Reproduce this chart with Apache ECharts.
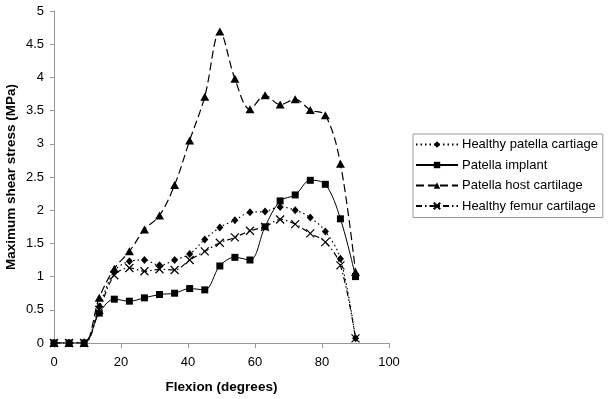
<!DOCTYPE html>
<html>
<head>
<meta charset="utf-8">
<script src="https://cdn.jsdelivr.net/npm/echarts@6/dist/echarts.min.js"></script>
<style>
  html, body { margin: 0; padding: 0; background: #fff; }
  #chart { width: 611px; height: 399px; }
</style>
</head>
<body>
<div id="chart"></div>
<script>
// flexion angles (degrees)
var flexion = [0, 4.5, 9, 13.5, 18, 22.5, 27, 31.5, 36, 40.5, 45, 49.5, 54, 58.5, 63, 67.5, 72, 76.5, 81, 85.5, 90];

// max shear stress (MPa)
var healthyPatella = [0, 0, 0.01, 0.55, 1.08, 1.23, 1.25, 1.17, 1.25, 1.34, 1.56, 1.74, 1.85, 1.97, 1.98, 2.05, 2.0, 1.89, 1.68, 1.27, 0.07];
var patellaImplant = [0, 0, 0, 0.45, 0.66, 0.63, 0.68, 0.73, 0.75, 0.82, 0.8, 1.16, 1.29, 1.25, 1.75, 2.14, 2.23, 2.45, 2.39, 1.87, 1.0];
var hostCartilage = [0, 0, 0, 0.68, 1.12, 1.38, 1.71, 1.92, 2.38, 3.05, 3.71, 4.69, 3.98, 3.52, 3.73, 3.59, 3.67, 3.51, 3.43, 2.7, 1.07];
var healthyFemur = [0, 0, 0, 0.5, 1.02, 1.13, 1.08, 1.11, 1.1, 1.25, 1.38, 1.51, 1.59, 1.69, 1.75, 1.86, 1.79, 1.65, 1.52, 1.17, 0.07];

var seriesNames = ['Healthy patella cartiage', 'Patella implant', 'Patella host cartilage', 'Healthy femur cartilage'];

function pairs(ys) {
    return ys.map(function (v, i) { return [flexion[i], v]; });
}

var crossPath = 'path://M0,0L10,10M10,0L0,10';

var chart = echarts.init(document.getElementById('chart'));
var font = 'Arial, "Liberation Sans", sans-serif';

var option = {
    backgroundColor: '#fff',
    animation: false,
    grid: { left: 54, top: 11, width: 335, height: 332, containLabel: false, outerBoundsMode: 'none' },
    legend: {
        orient: 'vertical',
        left: 413,
        top: 134,
        padding: [4, 5, 5, 2],
        itemGap: 7.5,
        itemWidth: 42,
        itemHeight: 8,
        borderColor: '#999',
        borderWidth: 1,
        textStyle: { fontFamily: font, fontSize: 13, color: '#000', padding: [0, 0, 0, -1] },
        data: seriesNames
    },
    xAxis: {
        type: 'value',
        min: 0, max: 100, interval: 20,
        name: 'Flexion (degrees)',
        nameLocation: 'middle',
        nameGap: 37,
        nameMoveOverlap: false,
        nameTextStyle: { fontFamily: font, fontSize: 13.5, fontWeight: 'bold', color: '#000' },
        axisLine: { lineStyle: { color: '#999' } },
        axisTick: { lineStyle: { color: '#999' }, length: 5 },
        axisLabel: { fontFamily: font, fontSize: 13, color: '#000', margin: 13 },
        splitLine: { show: false }
    },
    yAxis: {
        type: 'value',
        min: 0, max: 5, interval: 0.5,
        name: 'Maximum shear stress (MPa)',
        nameLocation: 'middle',
        nameGap: 36,
        nameMoveOverlap: false,
        nameTextStyle: { fontFamily: font, fontSize: 13.5, fontWeight: 'bold', color: '#000' },
        axisLine: { show: true, lineStyle: { color: '#999' } },
        axisTick: { show: true, lineStyle: { color: '#999' }, length: 4 },
        axisLabel: { fontFamily: font, fontSize: 13, color: '#000', margin: 10 },
        splitLine: { show: false }
    },
    series: [
        {
            name: seriesNames[0], type: 'line', smooth: 0.35,
            data: pairs(healthyPatella),
            symbol: 'diamond', symbolSize: [7, 8],
            itemStyle: { color: '#000' },
            lineStyle: { color: '#000', width: 1.2, type: [1.5, 3] }
        },
        {
            name: seriesNames[1], type: 'line', smooth: 0.35,
            data: pairs(patellaImplant),
            symbol: 'rect', symbolSize: 7,
            itemStyle: { color: '#000' },
            lineStyle: { color: '#000', width: 1 }
        },
        {
            name: seriesNames[2], type: 'line', smooth: 0.35,
            data: pairs(hostCartilage),
            symbol: 'triangle', symbolSize: [9, 8],
            itemStyle: { color: '#000' },
            lineStyle: { color: '#000', width: 1.2, type: [8, 4] }
        },
        {
            name: seriesNames[3], type: 'line', smooth: 0.35,
            data: pairs(healthyFemur),
            symbol: crossPath, symbolSize: 8,
            itemStyle: { color: 'none', borderColor: '#000', borderWidth: 1.2 },
            lineStyle: { color: '#000', width: 1.2, type: [6, 3, 1.5, 3] }
        }
    ]
};

chart.setOption(option);
</script>
</body>
</html>
